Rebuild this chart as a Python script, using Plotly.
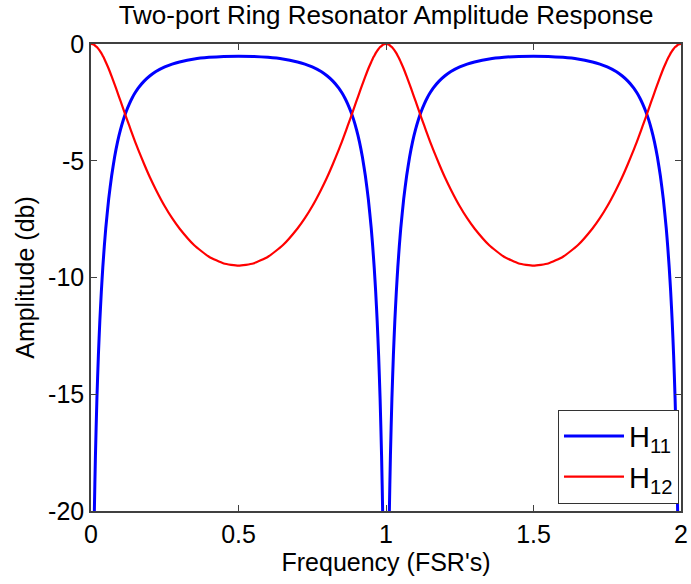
import plotly.graph_objects as go

# Frequency (in FSR units)
freq = [
    0.0, 0.005, 0.0114, 0.015, 0.02, 0.025, 0.03, 0.035, 0.04, 0.045, 0.05, 0.06, 0.07, 0.08, 0.09,
    0.10, 0.11, 0.12, 0.13, 0.14, 0.15, 0.16, 0.18, 0.20, 0.22, 0.25, 0.275, 0.30, 0.35, 0.40, 0.45,
    0.50, 0.55, 0.60, 0.65, 0.70, 0.725, 0.75, 0.78, 0.80, 0.82, 0.84, 0.85, 0.86, 0.87, 0.88, 0.89,
    0.90, 0.91, 0.92, 0.93, 0.94, 0.95, 0.955, 0.96, 0.965, 0.97, 0.975, 0.98, 0.985, 0.9886, 0.995,
    1.0, 1.005, 1.0114, 1.015, 1.02, 1.025, 1.03, 1.035, 1.04, 1.045, 1.05, 1.06, 1.07, 1.08, 1.09,
    1.10, 1.11, 1.12, 1.13, 1.14, 1.15, 1.16, 1.18, 1.20, 1.22, 1.25, 1.275, 1.30, 1.35, 1.40, 1.45,
    1.50, 1.55, 1.60, 1.65, 1.70, 1.725, 1.75, 1.78, 1.80, 1.82, 1.84, 1.85, 1.86, 1.87, 1.88, 1.89,
    1.90, 1.91, 1.92, 1.93, 1.94, 1.95, 1.955, 1.96, 1.965, 1.97, 1.975, 1.98, 1.985, 1.9886, 1.995,
    2.0,
]

# H11 amplitude (dB)
h11 = [
    None, -27.1, -20.0, -17.64, -15.20, -13.34, -11.84, -10.61, -9.57, -8.68, -7.90, -6.63, -5.64, -4.84, -4.19,
    -3.67, -3.23, -2.87, -2.56, -2.30, -2.08, -1.89, -1.59, -1.36, -1.18, -0.98, -0.86, -0.77, -0.64, -0.57, -0.53,
    -0.52, -0.53, -0.57, -0.64, -0.77, -0.86, -0.98, -1.18, -1.36, -1.59, -1.89, -2.08, -2.30, -2.56, -2.87, -3.23,
    -3.67, -4.19, -4.84, -5.64, -6.63, -7.90, -8.68, -9.57, -10.61, -11.84, -13.34, -15.20, -17.64, -20.0, -27.1,
    None, -27.1, -20.0, -17.64, -15.20, -13.34, -11.84, -10.61, -9.57, -8.68, -7.90, -6.63, -5.64, -4.84, -4.19,
    -3.67, -3.23, -2.87, -2.56, -2.30, -2.08, -1.89, -1.59, -1.36, -1.18, -0.98, -0.86, -0.77, -0.64, -0.57, -0.53,
    -0.52, -0.53, -0.57, -0.64, -0.77, -0.86, -0.98, -1.18, -1.36, -1.59, -1.89, -2.08, -2.30, -2.56, -2.87, -3.23,
    -3.67, -4.19, -4.84, -5.64, -6.63, -7.90, -8.68, -9.57, -10.61, -11.84, -13.34, -15.20, -17.64, -20.0, -27.1,
    None,
]

# H12 amplitude (dB)
h12 = [
    0.0, -0.01, -0.04, -0.08, -0.13, -0.21, -0.29, -0.39, -0.51, -0.63, -0.77, -1.06, -1.39, -1.73, -2.08,
    -2.44, -2.80, -3.16, -3.51, -3.86, -4.20, -4.52, -5.14, -5.72, -6.24, -6.95, -7.46, -7.90, -8.62, -9.11, -9.40,
    -9.49, -9.40, -9.11, -8.62, -7.90, -7.46, -6.95, -6.24, -5.72, -5.14, -4.52, -4.20, -3.86, -3.51, -3.16, -2.80,
    -2.44, -2.08, -1.73, -1.39, -1.06, -0.77, -0.63, -0.51, -0.39, -0.29, -0.21, -0.13, -0.08, -0.04, -0.01,
    0.0, -0.01, -0.04, -0.08, -0.13, -0.21, -0.29, -0.39, -0.51, -0.63, -0.77, -1.06, -1.39, -1.73, -2.08,
    -2.44, -2.80, -3.16, -3.51, -3.86, -4.20, -4.52, -5.14, -5.72, -6.24, -6.95, -7.46, -7.90, -8.62, -9.11, -9.40,
    -9.49, -9.40, -9.11, -8.62, -7.90, -7.46, -6.95, -6.24, -5.72, -5.14, -4.52, -4.20, -3.86, -3.51, -3.16, -2.80,
    -2.44, -2.08, -1.73, -1.39, -1.06, -0.77, -0.63, -0.51, -0.39, -0.29, -0.21, -0.13, -0.08, -0.04, -0.01,
    0.0,
]

x_ticks = [0, 0.5, 1, 1.5, 2]
x_tick_labels = ["0", "0.5", "1", "1.5", "2"]
y_ticks = [0, -5, -10, -15, -20]
y_tick_labels = ["0", "-5", "-10", "-15", "-20"]

FONT = "Liberation Sans, Arial, sans-serif"
AXIS_COLOR = "#404040"

fig = go.Figure()
fig.add_trace(go.Scatter(
    x=freq, y=h11, mode="lines", name="H<sub>11</sub>",
    line=dict(color="#0000FF", width=3, shape="spline", smoothing=0.5),
    connectgaps=False,
))
fig.add_trace(go.Scatter(
    x=freq, y=h12, mode="lines", name="H<sub>12</sub>",
    line=dict(color="#FF0000", width=2.2, shape="spline", smoothing=0.5),
))

axis_common = dict(
    showgrid=False, zeroline=False, showline=True, linecolor=AXIS_COLOR, linewidth=1.5,
    mirror="ticks", ticks="inside", ticklen=6, tickcolor=AXIS_COLOR, tickwidth=1,
    tickfont=dict(family=FONT, size=25, color="black"),
)

fig.update_layout(
    width=691, height=584,
    margin=dict(l=91, r=10, t=44, b=73, autoexpand=False),
    paper_bgcolor="white", plot_bgcolor="white",
    font=dict(family=FONT, color="black"),
    title=dict(
        text="Two-port Ring Resonator Amplitude Response",
        font=dict(family=FONT, size=26, color="black"),
        x=(91 + 681) / 2 / 691, xanchor="center",
        y=1 - 15 / 584, yanchor="middle", yref="container",
    ),
    xaxis=dict(
        range=[0, 2], tickvals=x_ticks, ticktext=x_tick_labels,
        title=dict(text="Frequency (FSR's)", font=dict(family=FONT, size=25, color="black"), standoff=0),
        automargin=False,
        **axis_common,
    ),
    yaxis=dict(
        range=[-20, 0], tickvals=y_ticks, ticktext=y_tick_labels,
        title=dict(text="Amplitude (db)", font=dict(family=FONT, size=25, color="black"), standoff=6),
        automargin=False,
        **axis_common,
    ),
    legend=dict(
        x=0.9966, y=0.016, xanchor="right", yanchor="bottom",
        bgcolor="white", bordercolor="#333333", borderwidth=1,
        font=dict(family=FONT, size=29, color="black"),
        itemwidth=60,
    ),
    showlegend=True,
)

fig.write_html("out.html")
